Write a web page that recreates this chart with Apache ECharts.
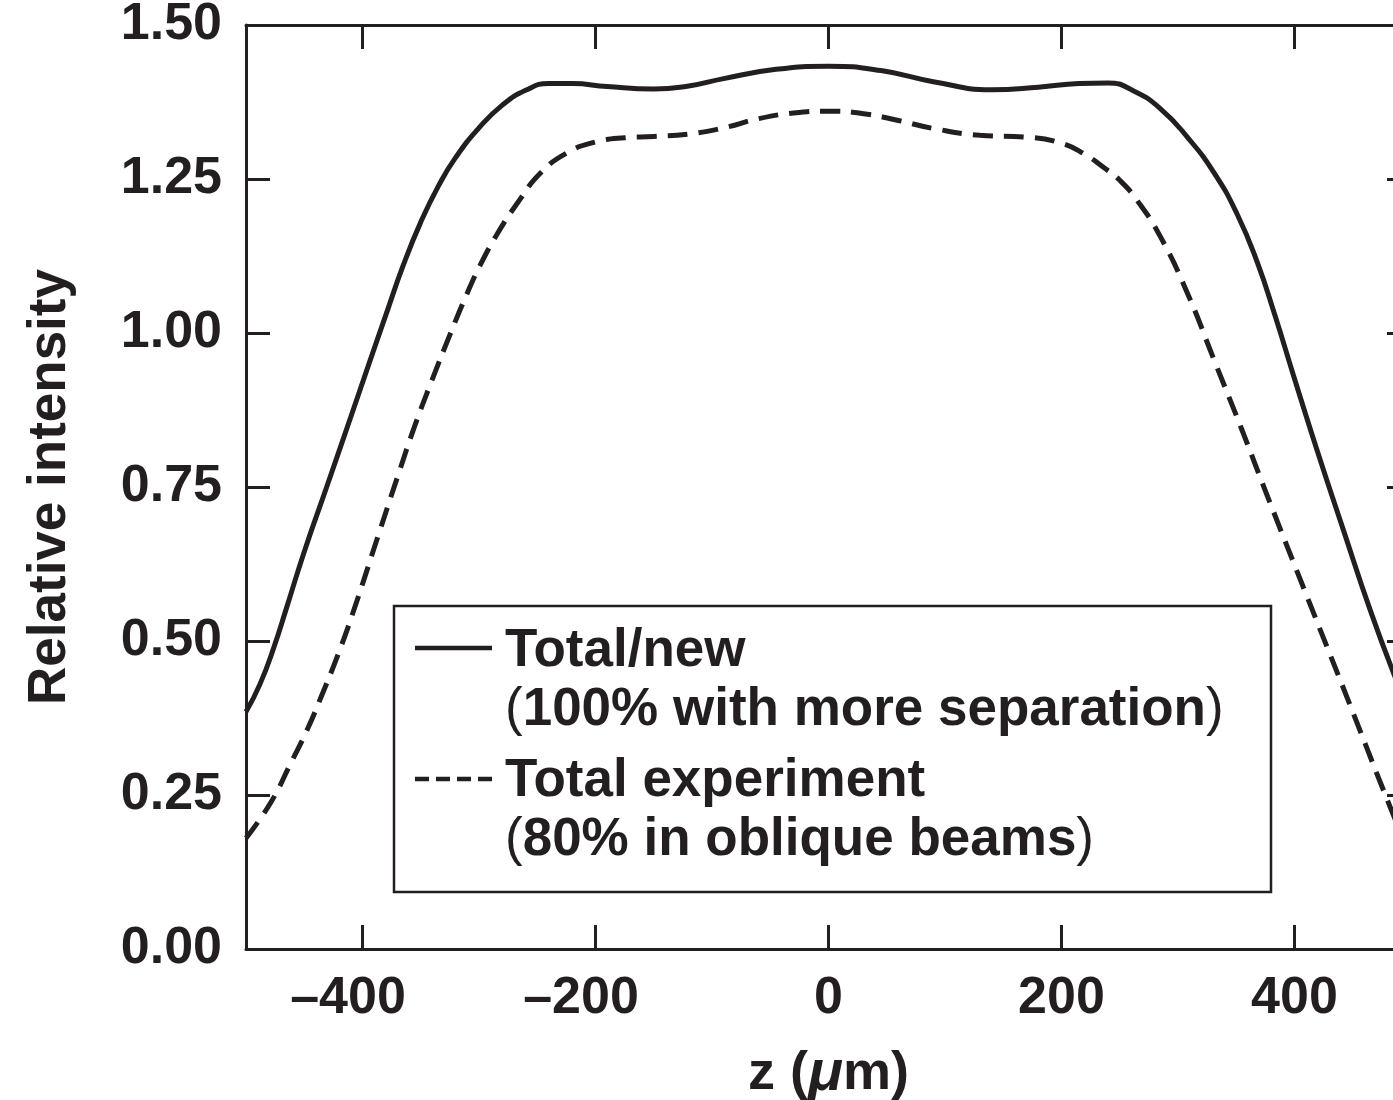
<!DOCTYPE html>
<html>
<head>
<meta charset="utf-8">
<script src="https://cdn.jsdelivr.net/npm/echarts@6/dist/echarts.min.js"></script>
<style>html,body{margin:0;padding:0;background:#fff;}#c{width:1393px;height:1100px;}</style>
</head>
<body>
<div id="c"></div>
<script>
// z positions (µm) and relative intensity
const zNew = [-500,-488,-476,-465,-450,-430,-410,-395,-380,-365,-350,-335,-320,-300,-280,-260,-240,-220,-190,-150,-120,-90,-45,0,45,90,140,180,215,240,262,285,308,331,351,368,383,399,420,442,465,485,500];
const vNew = [0.385,0.430,0.490,0.555,0.645,0.754,0.864,0.947,1.029,1.110,1.180,1.238,1.285,1.333,1.370,1.394,1.405,1.405,1.400,1.396,1.401,1.413,1.428,1.433,1.426,1.408,1.395,1.399,1.405,1.406,1.393,1.364,1.318,1.260,1.192,1.115,1.030,0.932,0.806,0.680,0.550,0.448,0.380];
const zExp = [-500,-479,-462,-447,-436,-421,-408,-385,-370,-355,-340,-325,-310,-299,-284,-267,-247,-224,-200,-175,-150,-120,-90,-60,-30,0,30,60,90,130,170,200,220,236,250,265,285,308,331,354,377,411,445,482,500];
const vExp = [0.180,0.237,0.300,0.358,0.407,0.478,0.547,0.680,0.766,0.850,0.925,0.997,1.065,1.110,1.162,1.211,1.260,1.293,1.310,1.317,1.319,1.323,1.333,1.348,1.357,1.360,1.356,1.345,1.332,1.321,1.318,1.308,1.290,1.269,1.248,1.215,1.156,1.065,0.956,0.847,0.734,0.571,0.409,0.231,0.150];
const xTicks = [-400,-200,0,200,400];
const yTicks = [0,0.25,0.5,0.75,1.0,1.25,1.5];
const legendNames = [["Total/new","100% with more separation"],["Total experiment","80% in oblique beams"]];

const INK = '#231f20';
const FONT = '"Liberation Sans", Arial, Helvetica, sans-serif';
const chart = echarts.init(document.getElementById('c'), null, {renderer:'canvas'});

const xBase = {
  type:'value', min:-500, max:500,
  axisLine:{show:true, onZero:false, lineStyle:{color:INK, width:3}},
  axisTick:{show:true, inside:true, length:24, customValues:xTicks, lineStyle:{color:INK, width:3}},
  splitLine:{show:false}
};
const yBase = {
  type:'value', min:0, max:1.5, interval:0.25,
  axisLine:{show:true, onZero:false, lineStyle:{color:INK, width:3}},
  axisTick:{show:true, inside:true, length:24, lineStyle:{color:INK, width:3}},
  splitLine:{show:false}
};

const legFont = 53;
const richLeg = {p:{fontSize:legFont,fontWeight:'normal',fontFamily:FONT,fill:INK},t:{fontSize:legFont,fontWeight:'bold',fontFamily:FONT,fill:INK}};
chart.setOption({
  animation:false,
  grid:{left:246, top:25, width:1165, height:924, containLabel:false, outerBoundsMode:'none'},
  xAxis:[
    Object.assign({}, xBase, {
      position:'bottom',
      axisLabel:{show:true, customValues:xTicks, margin:24, color:INK, fontSize:52, fontWeight:'bold', fontFamily:FONT,
        formatter:v => (v<0 ? '\u2013'+Math.abs(v)+'{h|\u2013}' : String(v)),
        rich:{h:{fontSize:52, fontWeight:'bold', fontFamily:FONT, color:'rgba(0,0,0,0)'}}},
      name:'{a|z (}{b|\u03bc}{a|m)}', nameLocation:'middle', nameGap:96,
      nameTextStyle:{rich:{a:{fontSize:54,fontWeight:'bold',fontFamily:FONT,color:INK},b:{fontSize:58,fontStyle:'italic',fontWeight:'bold',fontFamily:FONT,color:INK}}}
    }),
    Object.assign({}, xBase, {position:'top', axisLabel:{show:false}})
  ],
  yAxis:[
    Object.assign({}, yBase, {
      position:'left',
      axisLabel:{show:true, margin:24, color:INK, fontSize:52, fontWeight:'bold', fontFamily:FONT, formatter:v => v.toFixed(2)},
      name:'Relative intensity', nameLocation:'middle', nameGap:169, nameRotate:90,
      nameTextStyle:{fontSize:53, fontWeight:'bold', fontFamily:FONT, color:INK}
    }),
    Object.assign({}, yBase, {position:'right', axisLabel:{show:false}})
  ],
  series:[
    {name:legendNames[0][0], type:'line', xAxisIndex:0, yAxisIndex:0, showSymbol:false, smooth:0.5,
     lineStyle:{color:INK, width:5}, data: zNew.map((z,i)=>[z,vNew[i]])},
    {name:legendNames[1][0], type:'line', xAxisIndex:0, yAxisIndex:0, showSymbol:false, smooth:0.5,
     lineStyle:{color:INK, width:5, type:[20,11]}, data: zExp.map((z,i)=>[z,vExp[i]])}
  ],
  graphic:[
    {type:'rect', shape:{x:394, y:606, width:877, height:286}, style:{fill:'#fff', stroke:INK, lineWidth:2.5}, z:100},
    {type:'line', shape:{x1:415, y1:648, x2:492, y2:648}, style:{stroke:INK, lineWidth:4.5}, z:101},
    {type:'line', shape:{x1:415, y1:779, x2:492, y2:779}, style:{stroke:INK, lineWidth:4.5, lineDash:[14,7]}, z:101},
    {type:'text', left:505, top:625, z:101, style:{text:legendNames[0][0], fontSize:legFont, fontWeight:'bold', fontFamily:FONT, fill:INK}},
    {type:'text', left:505, top:684, z:101, style:{text:'{p|(}{t|'+legendNames[0][1]+'}{p|)}', rich:richLeg}},
    {type:'text', left:505, top:755, z:101, style:{text:legendNames[1][0], fontSize:legFont, fontWeight:'bold', fontFamily:FONT, fill:INK}},
    {type:'text', left:505, top:814, z:101, style:{text:'{p|(}{t|'+legendNames[1][1]+'}{p|)}', rich:richLeg}}
  ]
});
</script>
</body>
</html>
